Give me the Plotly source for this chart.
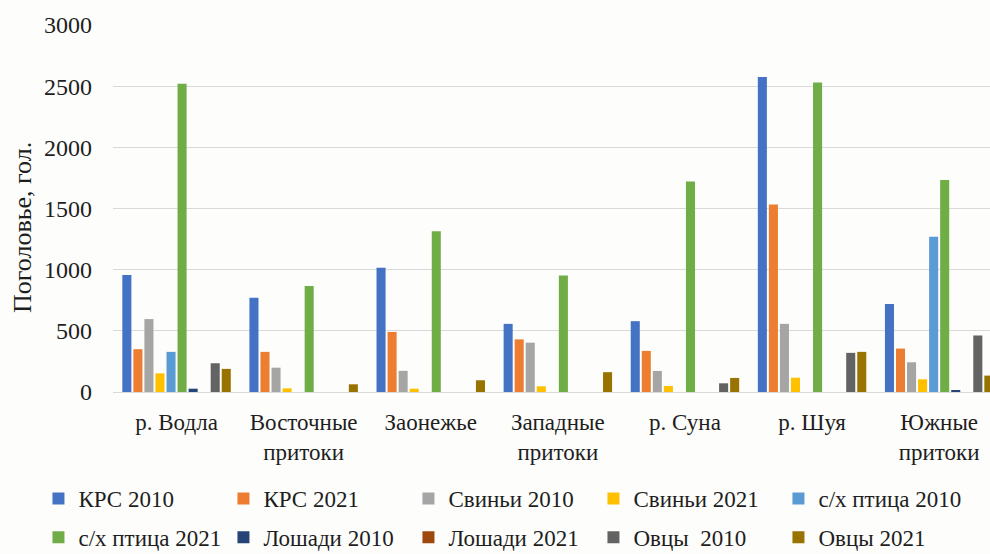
import plotly.graph_objects as go

categories = ["р. Водла", "Восточные<br>притоки", "Заонежье", "Западные<br>притоки",
              "р. Суна", "р. Шуя", "Южные<br>притоки"]

series_names = ["КРС 2010", "КРС 2021", "Свиньи 2010", "Свиньи 2021", "с/х птица 2010",
                "с/х птица 2021", "Лошади 2010", "Лошади 2021", "Овцы  2010", "Овцы 2021"]

krs_2010 = [956, 770, 1015, 557, 579, 2574, 719]
krs_2021 = [350, 328, 491, 430, 336, 1533, 355]
svini_2010 = [596, 199, 173, 403, 172, 557, 243]
svini_2021 = [153, 30, 27, 47, 49, 117, 104]
ptica_2010 = [328, 0, 0, 0, 0, 0, 1270]
ptica_2021 = [2520, 866, 1314, 952, 1721, 2530, 1732]
loshadi_2010 = [27, 0, 0, 0, 0, 0, 14]
loshadi_2021 = [0, 0, 0, 0, 0, 0, 0]
ovcy_2010 = [235, 0, 0, 0, 71, 320, 462]
ovcy_2021 = [189, 63, 96, 162, 115, 328, 134]

series_values = [krs_2010, krs_2021, svini_2010, svini_2021, ptica_2010,
                 ptica_2021, loshadi_2010, loshadi_2021, ovcy_2010, ovcy_2021]

colors = ["#4472C4", "#ED7D31", "#A5A5A5", "#FFC000", "#5B9BD5",
          "#70AD47", "#264478", "#9E480E", "#636363", "#997300"]

y_ticks = [0, 500, 1000, 1500, 2000, 2500, 3000]

FONT = "Liberation Serif, Times New Roman, serif"
TXT = "#1e1e1e"

fig = go.Figure()
for i, (name, vals, col) in enumerate(zip(series_names, series_values, colors)):
    fig.add_trace(go.Bar(
        x=list(range(len(categories))), y=vals, name=name,
        marker=dict(color=col, line=dict(width=0)),
        legend="legend" if i < 5 else "legend2",
    ))

leg_common = dict(orientation="h", xanchor="left", yanchor="middle",
                  bgcolor="rgba(0,0,0,0)", borderwidth=0,
                  font=dict(family=FONT, size=23, color=TXT),
                  entrywidth=140, entrywidthmode="pixels", itemwidth=30,
                  traceorder="normal")

plot_w = 990 - 113
plot_h = 554 - 25 - 162

fig.update_layout(
    width=990, height=554,
    margin=dict(l=113, r=0, t=25, b=162, autoexpand=False),
    paper_bgcolor="#fdfdfb", plot_bgcolor="#fdfdfb",
    barmode="group", bargap=0.131, bargroupgap=0.18,
    font=dict(family=FONT, size=23, color=TXT),
    xaxis=dict(
        range=[-0.5, 6.4], tickmode="array", automargin=False,
        tickvals=list(range(len(categories))), ticktext=categories,
        showgrid=False, zeroline=False, showline=False, ticks="",
        ticklabelstandoff=14,
        tickfont=dict(family=FONT, size=23, color=TXT),
    ),
    yaxis=dict(
        range=[0, 3000], tickmode="array", tickvals=y_ticks, automargin=False,
        ticktext=[str(v) for v in y_ticks],
        showgrid=True, gridcolor="#d9d9d9", gridwidth=1,
        zeroline=True, zerolinecolor="#d9d9d9", zerolinewidth=1,
        showline=False, ticks="", ticklabelstandoff=20,
        tickfont=dict(family=FONT, size=24, color=TXT),
    ),
    legend=dict(x=-0.085, y=-0.290, **leg_common),
    legend2=dict(x=-0.085, y=-0.396, **leg_common),
    showlegend=True,
    annotations=[dict(
        text="Поголовье, гол.", textangle=-90,
        x=(22 - 113) / plot_w, y=(392 - 228) / plot_h,
        xanchor="center", yanchor="middle",
        xref="paper", yref="paper", showarrow=False,
        font=dict(family=FONT, size=26, color=TXT),
    )],
)

fig.write_html("out.html")
